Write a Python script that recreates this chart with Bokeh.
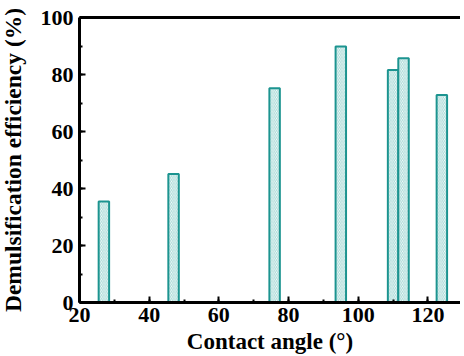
from bokeh.plotting import figure
from bokeh.models import LinearAxis, SingleIntervalTicker, FixedTicker, Range1d, ColumnDataSource
from bokeh.embed import file_html
from bokeh.resources import INLINE

contact_angle = [27, 47, 76, 95, 110, 113, 124]
efficiency = [35.4, 45.1, 75.2, 89.8, 81.6, 85.7, 72.8]
bar_width = 3.0

src = ColumnDataSource(dict(x=contact_angle, top=efficiency))

p = figure(width=464, height=356, output_backend="svg", toolbar_location=None,
           x_range=Range1d(20, 129.35), y_range=Range1d(0, 100),
           min_border_left=78, min_border_top=17, min_border_bottom=53, min_border_right=0,
           x_axis_label="Contact angle (°)", y_axis_label="Demulsification efficiency (%)")
p.margin = (0, 0, 0, -4)
p.outline_line_color = None
p.grid.visible = False
p.background_fill_color = "white"
p.border_fill_color = "white"

p.vbar(x="x", top="top", bottom=0, width=bar_width, source=src,
       fill_color="white", line_color="#1c9490", line_width=2,
       hatch_pattern="\\", hatch_color="#a6d9d6", hatch_scale=3.5, hatch_weight=1)

FONT = "Liberation Serif"
for ax, interval in ((p.xaxis[0], 20), (p.yaxis[0], 20)):
    ax.ticker = SingleIntervalTicker(interval=interval, num_minor_ticks=2)
    ax.major_tick_in = 6
    ax.major_tick_out = 0
    ax.minor_tick_in = 3
    ax.minor_tick_out = 0
    ax.major_tick_line_width = 2
    ax.minor_tick_line_width = 2
    ax.axis_line_width = 3
    ax.major_label_text_font = FONT
    ax.major_label_text_font_style = "bold"
    ax.major_label_text_font_size = "22px"
    ax.major_label_text_color = "black"
    ax.axis_label_text_font = FONT
    ax.axis_label_text_font_style = "bold"
    ax.axis_label_text_font_size = "23px"
    ax.axis_label_text_color = "black"

p.yaxis[0].axis_label_text_font_size = "23.5px"
p.xaxis[0].major_label_standoff = 5
p.xaxis[0].axis_label_standoff = 4
p.yaxis[0].major_label_standoff = 6
p.yaxis[0].axis_label_standoff = 12

top_ax = LinearAxis(ticker=FixedTicker(ticks=[]), major_tick_line_color=None,
                    minor_tick_line_color=None, axis_line_width=3)
p.add_layout(top_ax, "above")

open("out.html", "w").write(file_html(p, INLINE))
